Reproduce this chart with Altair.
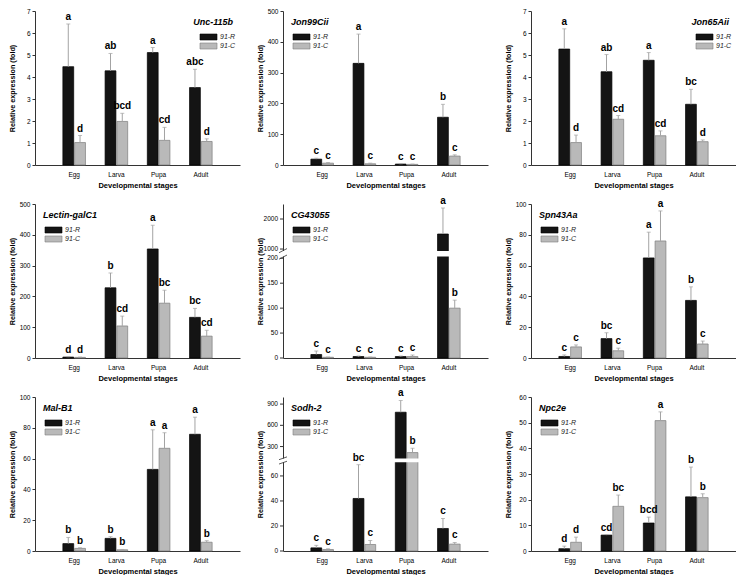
import altair as alt
import pandas as pd

FONT = "Liberation Sans"

genes = ["Unc-115b", "Jon99Cii", "Jon65Aii",
         "Lectin-galC1", "CG43055", "Spn43Aa",
         "Mal-B1", "Sodh-2", "Npc2e"]
stages = ["Egg", "Larva", "Pupa", "Adult"]
series = ["91-R", "91-C"]

# mean and standard error (upper error bar length) per stage: Egg, Larva, Pupa, Adult
R_MEAN = {
    "Unc-115b": [4.47, 4.28, 5.11, 3.52],
    "Jon99Cii": [19, 330, 3, 155],
    "Jon65Aii": [5.27, 4.24, 4.76, 2.76],
    "Lectin-galC1": [3, 228, 354, 132],
    "CG43055": [7, 3, 3, 1500],
    "Spn43Aa": [1, 12.6, 65, 37.4],
    "Mal-B1": [4.8, 8.2, 53, 75.8],
    "Sodh-2": [2.5, 42, 785, 18],
    "Npc2e": [0.9, 6.2, 10.9, 21.1],
}
R_SE = {
    "Unc-115b": [1.94, 0.79, 0.23, 0.83],
    "Jon99Cii": [3, 95, 1, 42],
    "Jon65Aii": [0.92, 0.78, 0.35, 0.68],
    "Lectin-galC1": [1, 48, 77, 29],
    "CG43055": [7, 1, 1, 867],
    "Spn43Aa": [1, 3.8, 16.7, 8.8],
    "Mal-B1": [4, 1.1, 25.7, 11.1],
    "Sodh-2": [2, 27, 166, 8],
    "Npc2e": [1.0, 0.2, 2.3, 11.6],
}
C_MEAN = {
    "Unc-115b": [1.02, 1.98, 1.12, 1.07],
    "Jon99Cii": [6, 4, 2, 29],
    "Jon65Aii": [1.02, 2.08, 1.33, 1.06],
    "Lectin-galC1": [2, 104, 178, 71],
    "CG43055": [1.5, 1.5, 3, 100],
    "Spn43Aa": [7.2, 4.7, 76, 9.1],
    "Mal-B1": [1.7, 0.8, 66.7, 5.7],
    "Sodh-2": [1.2, 5.2, 215, 5.5],
    "Npc2e": [3.4, 17.4, 50.8, 20.8],
}
C_SE = {
    "Unc-115b": [0.32, 0.37, 0.59, 0.12],
    "Jon99Cii": [2, 2, 1, 4],
    "Jon65Aii": [0.34, 0.17, 0.22, 0.08],
    "Lectin-galC1": [1, 32, 42, 19],
    "CG43055": [0.5, 0.5, 3, 16],
    "Spn43Aa": [1.3, 1.7, 19.5, 1.9],
    "Mal-B1": [0.4, 0.2, 10.1, 1.0],
    "Sodh-2": [0.6, 3.2, 61, 1.3],
    "Npc2e": [2.0, 4.4, 3.4, 1.5],
}
R_LET = {
    "Unc-115b": ["a", "ab", "a", "abc"],
    "Jon99Cii": ["c", "a", "c", "b"],
    "Jon65Aii": ["a", "ab", "a", "bc"],
    "Lectin-galC1": ["d", "b", "a", "bc"],
    "CG43055": ["c", "c", "c", "a"],
    "Spn43Aa": ["c", "bc", "a", "b"],
    "Mal-B1": ["b", "b", "a", "a"],
    "Sodh-2": ["c", "bc", "a", "c"],
    "Npc2e": ["d", "cd", "bcd", "b"],
}
C_LET = {
    "Unc-115b": ["d", "bcd", "cd", "d"],
    "Jon99Cii": ["c", "c", "c", "c"],
    "Jon65Aii": ["d", "cd", "cd", "d"],
    "Lectin-galC1": ["d", "cd", "bc", "cd"],
    "CG43055": ["c", "c", "c", "b"],
    "Spn43Aa": ["c", "c", "a", "c"],
    "Mal-B1": ["b", "b", "a", "b"],
    "Sodh-2": ["c", "c", "b", "c"],
    "Npc2e": ["d", "bc", "a", "b"],
}
Y_TICKS = {
    "Unc-115b": [0, 1, 2, 3, 4, 5, 6, 7],
    "Jon99Cii": [0, 100, 200, 300, 400, 500],
    "Jon65Aii": [0, 1, 2, 3, 4, 5, 6, 7],
    "Lectin-galC1": [0, 100, 200, 300, 400, 500],
    "Spn43Aa": [0, 20, 40, 60, 80, 100],
    "Mal-B1": [0, 20, 40, 60, 80, 100],
    "Npc2e": [0, 10, 20, 30, 40, 50, 60],
}
# broken axes: lower part 0..lo, a gap, then upper part hi..top compressed by k
BREAKS = {
    "CG43055": dict(lo=200, gap=18.5, hi=1000, k=0.0602, top=2500,
                    lower=[0, 50, 100, 150, 200], upper=[1000, 2000]),
    "Sodh-2": dict(lo=70, gap=5.0, hi=150, k=0.0566, top=1000,
                   lower=[0, 20, 40, 60], upper=[300, 600, 900]),
}
LEGEND_SIDE = {"Unc-115b": "right", "Jon65Aii": "right"}

W, H = 205, 154
BAR_COLORS = ["#141414", "#b9b9b9"]
BAR_STROKES = ["#000000", "#7d7d7d"]
ERR = "#a3a3a3"
AXIS_COLOR = "#333"


def disp(v, b):
    if v <= b["lo"]:
        return v
    return b["lo"] + b["gap"] + (v - b["hi"]) * b["k"]


def disp_expr(f, b):
    return (f"datum.{f} <= {b['lo']} ? datum.{f} : "
            f"{b['lo'] + b['gap']} + (datum.{f} - {b['hi']}) * {b['k']}")


def one_row():
    return alt.Chart(pd.DataFrame({"k": [0]}))


def panel(gene):
    rows = []
    for i, st in enumerate(stages):
        rows.append(dict(stage=st, series=series[0], mean=R_MEAN[gene][i],
                         se=R_SE[gene][i], letter=R_LET[gene][i]))
        rows.append(dict(stage=st, series=series[1], mean=C_MEAN[gene][i],
                         se=C_SE[gene][i], letter=C_LET[gene][i]))
    df = pd.DataFrame(rows)
    b = BREAKS.get(gene)
    base = alt.Chart(df).transform_calculate(top="datum.mean + datum.se")
    if b:
        base = base.transform_calculate(ym=disp_expr("mean", b), yt=disp_expr("top", b))
        ymax = disp(b["top"], b)
    else:
        base = base.transform_calculate(ym="datum.mean", yt="datum.top")
        ymax = Y_TICKS[gene][-1]

    yscale = alt.Scale(domain=[0, ymax], nice=False, zero=True)
    common = dict(title="Relative expression (fold)", grid=False, labelFontSize=6.5,
                  titleFontSize=7.2, titleFontWeight="bold", labelPadding=2,
                  titlePadding=3, labelOverlap=False, minExtent=16, maxExtent=16)
    if b:
        # tick marks and labels of a broken axis are drawn as layers below
        yaxis = alt.Axis(labels=False, ticks=False, values=[0], **common)
    else:
        yaxis = alt.Axis(values=Y_TICKS[gene], format="d", tickSize=3, **common)

    x = alt.X("stage:N", sort=stages,
              scale=alt.Scale(domain=stages, paddingInner=0.465, paddingOuter=0.66),
              axis=alt.Axis(title="Developmental stages", labelAngle=0, ticks=False,
                            labelFontSize=6.5, titleFontSize=7.5, titleFontWeight="bold",
                            labelPadding=6, titlePadding=4))
    xo = alt.XOffset("series:N", sort=series,
                     scale=alt.Scale(domain=series, paddingInner=0.08))

    bars = base.mark_bar(strokeWidth=0.7).encode(
        x=x, xOffset=xo,
        y=alt.Y("ym:Q", scale=yscale, axis=yaxis),
        color=alt.Color("series:N", scale=alt.Scale(domain=series, range=BAR_COLORS), legend=None),
        stroke=alt.Stroke("series:N", scale=alt.Scale(domain=series, range=BAR_STROKES), legend=None),
    )
    err = base.mark_rule(color=ERR, strokeWidth=1).encode(
        x=x, xOffset=xo, y=alt.Y("ym:Q", scale=yscale, axis=yaxis), y2="yt:Q")
    caps = base.mark_tick(color=ERR, thickness=1, size=4, orient="horizontal").encode(
        x=x, xOffset=xo, y=alt.Y("yt:Q", scale=yscale, axis=yaxis))
    letters = base.mark_text(dy=-2, baseline="bottom", fontSize=10, fontWeight="bold",
                             font=FONT, color="black").encode(
        x=x, xOffset=xo, y=alt.Y("yt:Q", scale=yscale, axis=yaxis), text="letter:N")
    layers = [bars, err, caps]

    if b:
        lo, g = b["lo"], b["gap"]

        def px(dv):
            return H - dv / ymax * H

        for v in b["lower"] + b["upper"]:
            p = px(disp(v, b))
            layers.append(one_row().mark_rule(color=AXIS_COLOR, strokeWidth=1).encode(
                x=alt.value(-3), x2=alt.value(0), y=alt.value(p), y2=alt.value(p)))
            layers.append(one_row().mark_text(
                align="right", baseline="middle", fontSize=6.5, font=FONT,
                color="black").encode(
                x=alt.value(-5), y=alt.value(p), text=alt.value(str(v))))
        layers.append(one_row().mark_rect(color="white").encode(
            x=alt.value(-2), x2=alt.value(W),
            y=alt.value(px(lo + g * 0.18)), y2=alt.value(px(lo + g * 0.78))))
        layers.append(one_row().mark_rule(color=AXIS_COLOR, strokeWidth=0.8).encode(
            x=alt.value(-4), x2=alt.value(4),
            y=alt.value(px(lo - g * 0.1)), y2=alt.value(px(lo + g * 0.35))))
        layers.append(one_row().mark_rule(color=AXIS_COLOR, strokeWidth=0.8).encode(
            x=alt.value(-4), x2=alt.value(4),
            y=alt.value(px(lo + g * 0.6)), y2=alt.value(px(lo + g * 1.05))))
    layers.append(letters)

    side = LEGEND_SIDE.get(gene, "left")
    if side == "right":
        gx, galign, sx = W - 7, "right", W - 40
    else:
        gx, galign, sx = 8, "left", 10
    layers.append(one_row().mark_text(
        font=FONT, fontSize=9, fontWeight="bold", fontStyle="italic", align=galign,
        baseline="middle", color="black").encode(
        x=alt.value(gx), y=alt.value(11), text=alt.value(gene)))
    for i, s in enumerate(series):
        yy = 26 + 9 * i
        layers.append(one_row().mark_rect(
            color=BAR_COLORS[i], stroke=BAR_STROKES[i], strokeWidth=0.6).encode(
            x=alt.value(sx), x2=alt.value(sx + 17),
            y=alt.value(yy - 3), y2=alt.value(yy + 3)))
        layers.append(one_row().mark_text(
            font=FONT, fontSize=7, fontStyle="italic", align="left",
            baseline="middle", color="#222").encode(
            x=alt.value(sx + 20), y=alt.value(yy), text=alt.value(s)))

    return alt.layer(*layers).properties(width=W, height=H)


rows = [alt.hconcat(*[panel(g) for g in genes[r * 3:(r + 1) * 3]], spacing=16)
        for r in range(3)]
chart = alt.vconcat(*rows, spacing=6, padding=0).configure_view(stroke=None).configure_axis(
    labelFont=FONT, titleFont=FONT, labelColor="black", titleColor="black",
    domainColor=AXIS_COLOR, tickColor=AXIS_COLOR, domainWidth=1, labelOverlap=False)

chart.save("out.html", embed_options={"renderer": "svg", "actions": False})
